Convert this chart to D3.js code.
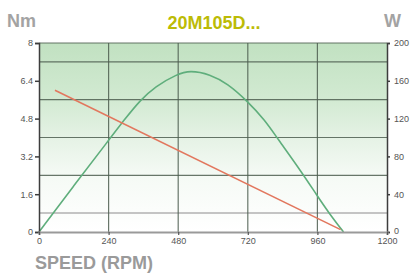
<!DOCTYPE html>
<html><head><meta charset="utf-8">
<script src="https://cdn.jsdelivr.net/npm/d3@7"></script>
<style>
html,body{margin:0;padding:0;background:#fff;}
svg{display:block;font-family:"Liberation Sans",Arial,sans-serif;}
</style></head>
<body><div id="chart"></div>
<script>
const title = "20M105D...";
const xTicks = [0, 240, 480, 720, 960, 1200];
const yLeftTicks = [0, 1.6, 3.2, 4.8, 6.4, 8];
const yLeftTickLabels = ["0", "1.6", "3.2", "4.8", "6.4", "8"];
const yRightTicks = [0, 40, 80, 120, 160, 200];
const gridDark = [2.4, 4.0, 5.6, 7.2];
const gridLight = [0.8];
// torque (Nm) vs speed (rpm)
const torqueSpeed = [55, 1040];
const torqueValues = [6.0, 0.1];
// power (W) vs speed (rpm)
const powerSpeed = [0, 120, 240, 300, 348, 400, 476, 520, 590, 650, 717, 780, 820, 900, 960, 1000, 1050];
const powerValues = [0, 49, 97, 121, 139, 154, 167, 171, 167, 157, 139, 118, 100, 66, 38, 20, 0];

const W = 412, H = 273;
const m = {left: 39, right: 25, top: 43, bottom: 41};
const svg = d3.select("#chart").append("svg").attr("width", W).attr("height", H);
const x = d3.scaleLinear().domain([0, 1200]).range([m.left, W - m.right]);
const yL = d3.scaleLinear().domain([0, 8]).range([H - m.bottom, m.top]);
const yR = d3.scaleLinear().domain([0, 200]).range([H - m.bottom, m.top]);

const defs = svg.append("defs");
const grad = defs.append("linearGradient").attr("id", "bg").attr("x1", 0).attr("y1", 0).attr("x2", 0).attr("y2", 1);
grad.append("stop").attr("offset", "0%").attr("stop-color", "#c1e1c1");
grad.append("stop").attr("offset", "30%").attr("stop-color", "#d2ead2");
grad.append("stop").attr("offset", "50%").attr("stop-color", "#e5f2e5");
grad.append("stop").attr("offset", "70%").attr("stop-color", "#f5faf5");
grad.append("stop").attr("offset", "100%").attr("stop-color", "#ffffff");

svg.append("rect").attr("x", x(0)).attr("y", yL(8)).attr("width", x(1200) - x(0)).attr("height", yL(0) - yL(8)).attr("fill", "url(#bg)");

// grid
svg.append("g").selectAll("line").data(gridLight).join("line")
  .attr("x1", x(0)).attr("x2", x(1200)).attr("y1", d => yL(d)).attr("y2", d => yL(d))
  .attr("stroke", "#c4c4c4").attr("stroke-width", 2);
svg.append("g").selectAll("line").data(gridDark.concat([8])).join("line")
  .attr("x1", x(0)).attr("x2", x(1200)).attr("y1", d => yL(d)).attr("y2", d => yL(d))
  .attr("stroke", "#4e5e50").attr("stroke-width", 1.2).attr("stroke-opacity", 0.85);
svg.append("g").selectAll("line").data(xTicks.slice(1, -1)).join("line")
  .attr("x1", d => x(d)).attr("x2", d => x(d)).attr("y1", yL(0)).attr("y2", yL(8))
  .attr("stroke", "#4e5e50").attr("stroke-width", 1.2).attr("stroke-opacity", 0.85);

// curves
const powerLine = d3.line().x((d, i) => x(powerSpeed[i])).y(d => yR(d)).curve(d3.curveBasis);
svg.append("path").attr("d", powerLine(powerValues)).attr("fill", "none")
  .attr("stroke", "#5fae7c").attr("stroke-width", 1.6);
const torqueLine = d3.line().x((d, i) => x(torqueSpeed[i])).y(d => yL(d));
svg.append("path").attr("d", torqueLine(torqueValues)).attr("fill", "none")
  .attr("stroke", "#e2775e").attr("stroke-width", 1.6);

// axes
const axL = svg.append("g").attr("transform", `translate(${x(0)},0)`)
  .call(d3.axisLeft(yL).tickValues(yLeftTicks).tickFormat((d, i) => yLeftTickLabels[i]).tickSize(4).tickPadding(2));
const axR = svg.append("g").attr("transform", `translate(${x(1200)},0)`)
  .call(d3.axisRight(yR).tickValues(yRightTicks).tickFormat(d3.format("d")).tickSize(3).tickPadding(4));
const axB = svg.append("g").attr("transform", `translate(0,${yL(0)})`)
  .call(d3.axisBottom(x).tickValues(xTicks).tickFormat(d3.format("d")).tickSize(3).tickPadding(3));
[axL, axR].forEach(a => {
  a.select(".domain").attr("stroke", "#3d3d3d").attr("stroke-width", 1.5);
  a.selectAll(".tick line").attr("stroke", "#3d3d3d").attr("stroke-width", 1.5);
});
axB.select(".domain").attr("stroke", "#9a9a9a").attr("stroke-width", 2);
axB.selectAll(".tick line").attr("stroke", "#555").attr("stroke-width", 1.2);
svg.selectAll(".tick text").attr("fill", "#555").attr("font-size", 9)
  .attr("font-family", "'Liberation Sans', Arial, sans-serif");
axR.selectAll(".tick text").filter(d => d === 0).attr("dy", "0.2em");

// titles
svg.append("text").attr("x", 214).attr("y", 29).attr("text-anchor", "middle")
  .attr("font-size", 18).attr("font-weight", "bold").attr("fill", "#bcbb06").text(title);
svg.append("text").attr("x", 7).attr("y", 27).attr("font-size", 18).attr("font-weight", "bold")
  .attr("fill", "#a3a3a3").text("Nm");
svg.append("text").attr("x", 384).attr("y", 27).attr("font-size", 18).attr("font-weight", "bold")
  .attr("fill", "#a3a3a3").text("W");
svg.append("text").attr("x", 35).attr("y", 269).attr("font-size", 18).attr("font-weight", "bold")
  .attr("fill", "#9a9a9a").text("SPEED (RPM)");
</script></body></html>
